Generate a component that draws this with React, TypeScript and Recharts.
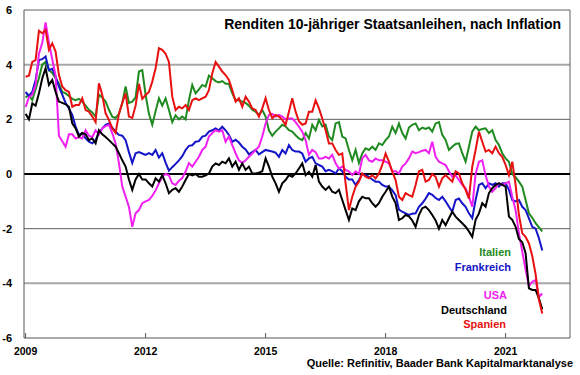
import React from 'react';
import { LineChart, Line, XAxis, YAxis, ReferenceLine } from 'recharts';

const startYear = 2009;
const xTicks = [2009, 2012, 2015, 2018, 2021];
const yTicks = [-6, -4, -2, 0, 2, 4, 6];

const italien = [
  2.8, 2.9, 2.7, 3.1, 3.5, 4.0, 4.1, 3.8, 3.7, 3.5, 3.3, 3.0,
  2.95, 2.85, 2.75, 2.7, 2.75, 2.65, 2.5, 2.35, 2.25, 2.1, 2.9, 2.8,
  2.65, 2.35, 2.1, 2.05, 2.2, 2.6, 3.2, 2.6, 2.65, 2.8, 3.75, 3.8,
  2.9, 2.2, 1.8, 2.3, 2.77, 2.5, 2.77, 2.34, 1.9, 2.15, 2.0, 2.1,
  2.0, 2.7, 3.26, 2.95, 3.1, 3.26, 3.2, 3.6, 3.5, 3.4, 3.35, 3.4,
  3.3, 3.3, 2.95, 2.7, 2.7, 2.65, 2.6, 2.5, 2.35, 2.28, 2.16, 2.34,
  2.1, 1.6, 1.4, 1.55, 1.67, 1.8, 1.74, 1.6, 1.55, 1.42, 1.3, 1.24,
  1.5, 1.3, 1.8, 1.6, 1.98, 1.74, 1.8, 1.37, 1.24, 1.85, 1.9, 1.37,
  1.3, 0.88, 0.5, 0.88, 0.4, 0.75, 0.94, 0.88, 1.0, 0.88, 1.12, 1.06,
  1.24, 1.37, 1.73, 1.5, 1.85, 1.5, 1.3, 1.7, 1.8, 1.85, 1.6, 1.7,
  1.65, 1.7, 1.55, 1.85, 1.9, 1.43, 1.25, 0.88, 1.0, 1.1, 1.12, 0.76,
  0.45, 1.0, 1.55, 1.73, 1.6, 1.65, 1.67, 1.5, 1.6, 1.24, 1.06, 0.76,
  0.57, 0.45, 0.0, -0.12, -0.28, -0.46, -0.95, -1.44, -1.6, -1.8, -1.95, -2.1,
];

const frankreich = [
  3.0, 2.85, 3.0, 3.44, 4.17, 4.2, 4.3, 3.8, 3.85, 3.56, 3.2, 2.9,
  2.6, 2.4, 2.16, 1.73, 1.43, 1.5, 1.3, 1.18, 1.12, 1.25, 1.5, 1.67,
  1.8, 1.85, 1.7, 1.55, 1.43, 1.4, 1.24, 0.8, 0.4, 0.76, 0.8, 0.75,
  0.7, 0.76, 0.7, 0.88, 0.6, 0.76, 0.42, 0.12, 0.25, 0.37, 0.5, 0.65,
  0.88, 1.03, 1.05, 1.18, 1.2, 1.37, 1.4, 1.55, 1.6, 1.67, 1.6, 1.73,
  1.6, 1.43, 1.18, 1.25, 1.15, 1.0, 0.9, 0.72, 0.8, 0.88, 0.72, 0.8,
  0.88, 0.85, 0.82, 0.78, 0.63, 0.88, 0.75, 1.06, 0.88, 0.82, 0.82, 0.75,
  0.45, 0.57, 0.63, 0.39, 0.33, 0.27, 0.1, 0.15, 0.1, 0.02, 0.2, 0.1,
  -0.1, -0.2, -0.2, -0.4, -0.22, 0.0, -0.04, -0.1, -0.2, -0.28, -0.28, -0.4,
  -0.46, -0.46, -0.6, -0.77, -1.3, -1.38, -1.44, -1.5, -1.45, -1.44, -1.2, -1.07,
  -0.9, -0.7, -0.76, -0.88, -0.95, -0.83, -1.0, -1.2, -1.38, -0.95, -0.9, -1.07,
  -1.2, -1.44, -1.62, -0.95, -0.4, -0.34, -0.52, -0.34, -0.4, -0.34, -0.46, -0.34,
  -0.34, -0.58, -0.95, -1.0, -0.95, -1.2, -1.32, -1.62, -1.93, -2.0, -2.35, -2.8,
];

const usa = [
  2.45, 2.8, 2.9, 3.25, 4.4, 4.8, 5.55, 4.8, 4.2, 3.6, 1.4, 1.2,
  1.0, 1.45, 1.45, 1.3, 1.35, 1.3, 1.6, 1.4, 1.35, 1.6, 1.45, 1.67,
  1.75, 1.8, 1.5, 1.12, 0.4, -0.46, -0.83, -1.2, -1.93, -1.44, -1.32, -1.07,
  -1.0, -0.95, -0.8, -0.6, -0.34, -0.1, 0.0, -0.05, -0.34, -0.4, -0.25, -0.15,
  0.09, 0.4, 0.27, 0.45, 0.63, 0.88, 1.0, 1.37, 1.5, 1.6, 1.55, 1.6,
  1.18, 1.37, 1.06, 0.76, 0.5, 0.4, 0.5, 0.63, 0.75, 0.88, 1.0, 1.37,
  1.85, 2.16, 2.2, 2.1, 2.16, 2.1, 2.0, 2.03, 2.03, 1.9, 1.73, 1.55,
  1.24, 0.7, 0.88, 0.8, 0.57, 0.57, 0.63, 0.57, 0.7, 0.39, 0.2, 0.27,
  0.15, 0.1, -0.04, 0.1, 0.0, 0.57, 0.7, 0.5, 0.45, 0.57, 0.5, 0.5,
  0.45, 0.39, 0.1, 0.1, 0.02, 0.27, 0.39, 0.57, 0.82, 0.76, 0.8, 0.85,
  0.88, 0.76, 1.18, 0.63, 0.45, 0.39, 0.33, 0.1, -0.1, -0.05, -0.22, -0.4,
  -0.52, -0.83, -1.2, 0.0, 0.45, 0.5, -0.05, -0.46, -0.65, -0.52, -0.34, -0.4,
  -0.34, -0.28, -0.83, -1.32, -2.17, -2.84, -3.5, -4.1, -3.94, -3.88, -4.5, -4.37,
];

const deutschland = [
  2.2, 2.0, 2.58, 2.5, 2.95, 3.5, 3.87, 3.26, 3.44, 3.0, 2.65, 2.6,
  2.55, 2.46, 1.85, 1.67, 1.37, 1.5, 1.45, 1.24, 1.3, 1.12, 1.6, 1.45,
  1.35, 1.24, 1.12, 1.0, 0.76, 0.5, 0.27, -0.2, -0.58, -0.2, 0.0, -0.2,
  -0.2, -0.34, -0.46, -0.16, -0.28, -0.04, -0.34, -0.7, -0.58, -0.52, -0.65, -0.46,
  -0.22, 0.0, -0.05, 0.0, -0.1, -0.1, -0.05, 0.02, 0.27, 0.39, 0.33, 0.45,
  0.39, 0.57, 0.27, 0.45, 0.15, 0.39, 0.15, 0.27, 0.02, 0.02, 0.05, 0.1,
  0.57, 0.27, -0.1, -0.34, -0.65, -0.34, -0.22, -0.04, -0.1, 0.02, 0.2, 0.39,
  -0.04, 0.08, -0.1, 0.33, -0.28, -0.46, -0.58, -0.46, -0.65, -0.7, -0.58, -0.95,
  -1.32, -1.68, -1.26, -1.32, -1.0, -0.83, -0.89, -0.89, -1.07, -1.2, -1.07, -0.83,
  -0.65, -0.46, -0.83, -1.07, -1.68, -1.62, -1.5, -1.55, -1.7, -1.93, -1.5, -1.25,
  -1.2, -1.32, -1.5, -1.7, -2.0, -1.68, -1.87, -1.62, -1.38, -1.56, -1.68, -1.8,
  -1.93, -2.1, -2.3, -1.68, -1.44, -1.07, -1.2, -0.7, -0.52, -0.4, -0.34, -0.4,
  -0.46, -1.56, -1.68, -1.93, -2.38, -2.5, -2.9, -4.18, -4.24, -4.24, -4.55, -4.95,
];

const spanien = [
  3.56, 3.6, 4.1, 4.17, 5.24, 5.15, 5.27, 4.54, 4.78, 4.48, 3.62, 3.2,
  3.07, 3.0, 2.46, 2.52, 2.52, 2.77, 2.34, 2.28, 2.1, 1.9, 3.32, 2.89,
  2.22, 1.98, 1.67, 1.5, 2.2, 2.6, 2.95, 2.1, 2.05, 2.5, 3.3, 2.75,
  2.89, 3.0, 3.38, 3.87, 4.6, 4.54, 4.4, 4.1, 2.83, 2.34, 2.46, 2.4,
  2.52, 2.34, 2.7, 2.77, 2.7, 2.77, 2.83, 3.07, 3.68, 4.1, 3.93, 3.75,
  3.62, 3.44, 3.07, 2.65, 2.77, 2.46, 2.83, 2.65, 2.4, 2.34, 2.1, 2.4,
  2.77, 2.34, 2.04, 2.16, 2.1, 1.98, 1.8, 2.28, 2.77, 2.28, 1.93, 1.8,
  1.85, 2.28, 2.28, 2.7, 2.4, 2.03, 1.6, 1.12, 1.12, 0.88, 0.7, 0.75,
  -0.34, -1.32, -0.83, -0.46, -0.28, 0.02, -0.1, -0.16, -0.04, -0.16, 0.02, 0.33,
  0.75, 0.45, 0.09, -0.22, -0.83, -0.95, -0.7, -0.77, -0.83, -0.4, 0.1, 0.15,
  -0.28, -0.22, 0.0, -0.1, -0.46, -0.16, -0.04, -0.16, -0.28, 0.1, 0.02, -0.34,
  -0.58, -0.9, 0.27, 0.88, 1.55, 1.18, 0.82, 0.88, 0.76, 1.0, 0.76, 0.63,
  0.33, -0.04, 0.45, -0.4, -1.5, -2.17, -2.3, -2.54, -3.0, -3.66, -4.6, -5.1,
];

const seriesNames = ['Italien', 'Frankreich', 'USA', 'Deutschland', 'Spanien'];
const seriesColors = ['#1f8a1f', '#1414c8', '#f020f0', '#000000', '#e81010'];
const seriesValues = [italien, frankreich, usa, deutschland, spanien];

const data = italien.map((_, i) => {
  const row: Record<string, number> = { t: startYear + i / 12 };
  seriesNames.forEach((n, k) => {
    row[n] = seriesValues[k][i];
  });
  return row;
});

const X_MIN = 2008.96;
const X_MAX = 2022.61;
const FONT = 'Arial, "Liberation Sans", sans-serif';

const legendItems = [
  { name: 'Italien', color: '#1f8a1f', right: 69, cy: 252 },
  { name: 'Frankreich', color: '#1414c8', right: 69, cy: 267 },
  { name: 'USA', color: '#f020f0', right: 73, cy: 295 },
  { name: 'Deutschland', color: '#000000', right: 73, cy: 310 },
  { name: 'Spanien', color: '#e81010', right: 74, cy: 324 },
];

export default function App() {
  return (
    <div style={{ position: 'absolute', left: 0, top: 0, width: 580, height: 375, background: '#fff', fontFamily: FONT }}>
      <LineChart width={580} height={375} data={data} margin={{ top: 10, right: 10, left: 0, bottom: 17 }}>
        <XAxis
          dataKey="t"
          type="number"
          domain={[X_MIN, X_MAX]}
          ticks={xTicks}
          allowDataOverflow
          height={20}
          stroke="#555"
          tickSize={-5}
          tickMargin={15}
          tick={{ fill: '#000', fontSize: 10.5, fontWeight: 'bold', fontFamily: FONT }}
        />
        <YAxis
          type="number"
          domain={[-6, 6]}
          ticks={yTicks}
          width={24}
          stroke="#555"
          tickLine={false}
          tickMargin={6}
          tick={{ fill: '#000', fontSize: 11, fontWeight: 'bold', fontFamily: FONT }}
        />
        <ReferenceLine y={4} stroke="#a8a8a8" strokeWidth={2} />
        <ReferenceLine y={-4} stroke="#a8a8a8" strokeWidth={2} />
        <ReferenceLine y={2} stroke="#606060" strokeWidth={1} />
        <ReferenceLine y={-2} stroke="#606060" strokeWidth={1} />
        <ReferenceLine y={6} stroke="#606060" strokeWidth={1} />
        <ReferenceLine x={X_MAX} stroke="#606060" strokeWidth={1} />
        <ReferenceLine y={0} stroke="#000" strokeWidth={2} />
        {seriesNames.map((n, k) => (
          <Line
            key={n}
            type="linear"
            dataKey={n}
            stroke={seriesColors[k]}
            strokeWidth={2}
            dot={false}
            isAnimationActive={false}
          />
        ))}
      </LineChart>
      <div style={{ position: 'absolute', right: 19, top: 15, fontSize: 14, lineHeight: '18px', fontWeight: 'bold', color: '#000', whiteSpace: 'nowrap' }}>
        Renditen 10-jähriger Staatsanleihen, nach Inflation
      </div>
      {legendItems.map((it) => (
        <div key={it.name} style={{ position: 'absolute', right: it.right, top: it.cy - 7, fontSize: 11, lineHeight: '14px', fontWeight: 'bold', color: it.color, whiteSpace: 'nowrap' }}>
          {it.name}
        </div>
      ))}
      <div style={{ position: 'absolute', right: 7, top: 356, fontSize: 11, lineHeight: '14px', fontWeight: 'bold', color: '#000', whiteSpace: 'nowrap' }}>
        Quelle: Refinitiv, Baader Bank Kapitalmarktanalyse
      </div>
    </div>
  );
}
